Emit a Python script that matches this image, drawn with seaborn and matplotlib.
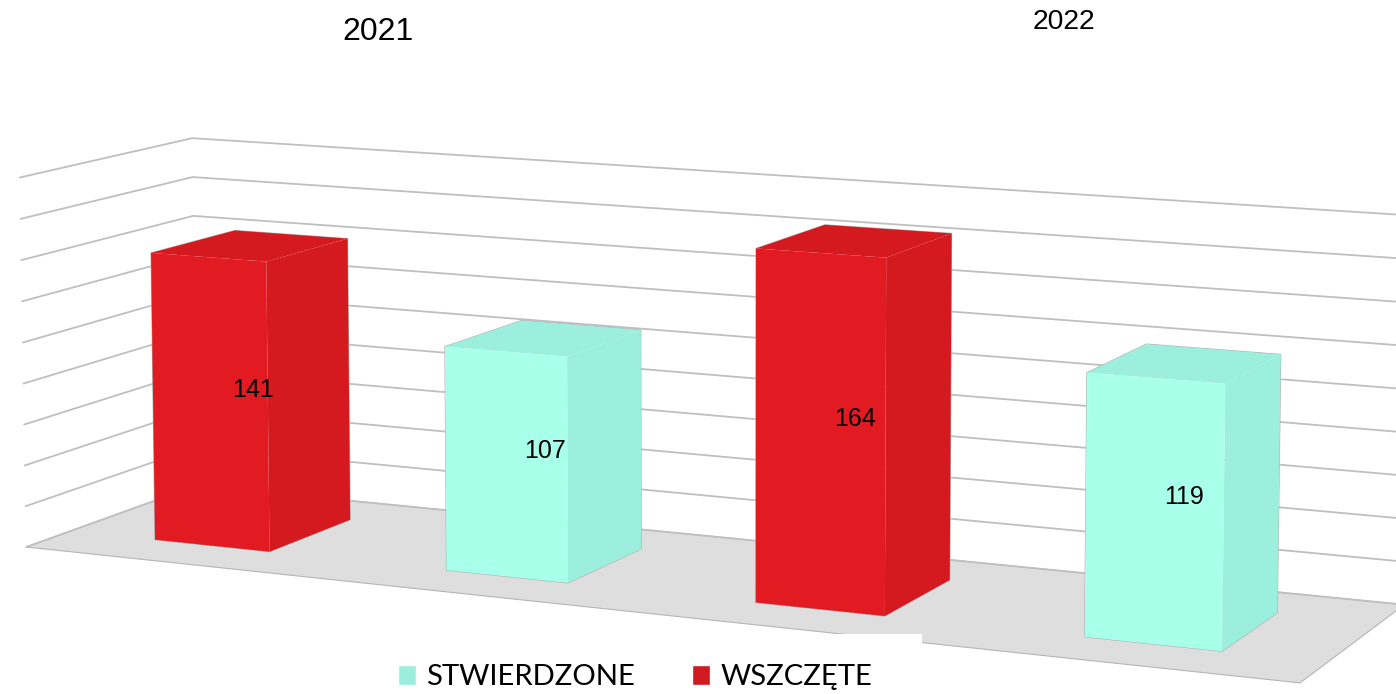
import numpy as np
import pandas as pd
import matplotlib
matplotlib.use("Agg")
import matplotlib.pyplot as plt
from matplotlib.patches import Polygon, Rectangle
from matplotlib.transforms import Affine2D, Transform
import seaborn as sns

# ── Data ──────────────────────────────────────────────────────────────────────
YEARS = ["2021", "2021", "2022", "2022"]
STATUS = ["WSZCZĘTE", "STWIERDZONE", "WSZCZĘTE", "STWIERDZONE"]
COUNTS = [141, 107, 164, 119]
GRID_VALUES = [0, 20, 40, 60, 80, 100, 120, 140, 160, 180]

# ── Style ─────────────────────────────────────────────────────────────────────
X_RANGE = (-0.5, 1.5)
Z_FRONT, Z_BACK = 0.25, 0.75
FRONT = {"WSZCZĘTE": "#E21B23", "STWIERDZONE": "#A8FFEA"}
SIDE = {"WSZCZĘTE": "#D41A1F", "STWIERDZONE": "#9BEFDC"}
LEGEND = {"WSZCZĘTE": "#CF1A20", "STWIERDZONE": "#9BEEDC"}
W, H = 1396, 694

# camera of the pseudo-3D view: (category, value, depth) -> image pixels
CAMERA = np.array([
    [578.110265, -0.0371795285, 188.637292, 316.0414],
    [29.0920362, -2.1234644, -30.8924182, 577.929427],
    [-0.0598733231, -5.08855223e-05, 0.0666894633, 1.0],
])


def project(x, y, z):
    x, y, z = np.broadcast_arrays(x, y, z)
    world = np.stack([x, y, z, np.ones_like(x, dtype=float)])
    u, v, w = CAMERA @ world
    return np.column_stack([u / w, v / w])


class FrontFace(Transform):
    """Data coords of a bar -> pixels, on the plane of constant depth z."""
    input_dims = output_dims = 2

    def __init__(self, z):
        super().__init__()
        self.z = z

    def transform_non_affine(self, xy):
        xy = np.asarray(xy, float)
        return project(xy[:, 0], xy[:, 1], self.z)


sns.set_theme(style="white")
fig = plt.figure(figsize=(W / 100, H / 100), dpi=100)
ax = fig.add_axes([0, 0, 1, 1])
to_px = Affine2D().scale(1 / W, -1 / H).translate(0, 1) + fig.transFigure

df = pd.DataFrame({"rok": YEARS, "status": STATUS, "liczba": COUNTS})
sns.barplot(data=df, x="rok", y="liczba", hue="status", palette=LEGEND,
            width=1.0, gap=0.6, saturation=1, ax=ax)
ax.set_axis_off()

# ── Floor and walls ───────────────────────────────────────────────────────────
x0, x1 = X_RANGE
floor = project([x0, x1, x1, x0], 0.0, [0.0, 0.0, 1.0, 1.0])
ax.add_patch(Polygon(floor, closed=True, transform=to_px, facecolor="#DEDEDE",
                     edgecolor="#B5B5B5", lw=0.8, zorder=0.5))
for val in GRID_VALUES:
    line = project([x0, x0, x1], val, [0.0, 1.0, 1.0])
    ax.plot(line[:, 0], line[:, 1], transform=to_px, color="#BFBFBF", lw=1.3, zorder=0.6)

# white box that cuts into the floor in the original
ax.add_patch(Rectangle((830, 634), 92, 16, transform=to_px, facecolor="white",
                       edgecolor="none", zorder=0.7))

# ── Bars ──────────────────────────────────────────────────────────────────────
for cont, name in zip(ax.containers, df["status"].unique()):
    for bar in cont:
        left, right, val = bar.get_x(), bar.get_x() + bar.get_width(), bar.get_height()
        bar.set_transform(FrontFace(Z_FRONT) + to_px)
        bar.set_facecolor(FRONT[name])
        bar.set_edgecolor("none")
        bar.set_clip_on(False)
        bar.set_zorder(2.1)

        top = project([left, right, right, left], val, [Z_FRONT, Z_FRONT, Z_BACK, Z_BACK])
        side = project(right, [0.0, val, val, 0.0], [Z_FRONT, Z_FRONT, Z_BACK, Z_BACK])
        outline = np.vstack([project(left, 0.0, Z_FRONT), side[0], side[3], side[2], top[3],
                             project(left, val, Z_FRONT)])
        ax.add_patch(Polygon(outline, closed=True, transform=to_px, facecolor="none",
                             edgecolor="#B0B0B0", lw=0.8, zorder=1.9))
        for face in (top, side):
            ax.add_patch(Polygon(face, closed=True, transform=to_px, facecolor=SIDE[name],
                                 edgecolor="none", zorder=2))

        mid = project((left + right) / 2, val / 2, (Z_FRONT + Z_BACK) / 2)[0]
        ax.text(mid[0] + 1, mid[1] + 2, f"{val:.0f}", transform=to_px, ha="center", va="center",
                family="Liberation Sans", fontsize=18, color="black", zorder=3)

# ── Titles and legend ─────────────────────────────────────────────────────────
fig.text(378 / W, 1 - 32 / H, "2021", ha="center", va="center",
         family="Liberation Sans", fontsize=23, color="black")
fig.text(1064 / W, 1 - 22 / H, "2022", ha="center", va="center",
         family="Liberation Sans", fontsize=20.4, color="black")

old = ax.get_legend()
handles = list(old.legend_handles)[::-1]
labels = [t.get_text() for t in old.get_texts()][::-1]
ax.legend(handles, labels, loc="center", bbox_to_anchor=(635 / W, 1 - 677 / H), ncol=2,
          frameon=False, labelcolor="black", prop={"family": "Lato", "size": 21.1},
          handlelength=0.61, handleheight=0.66, handletextpad=0.34, columnspacing=1.96,
          borderpad=0, borderaxespad=0)

fig.savefig("out.png", dpi=100)
